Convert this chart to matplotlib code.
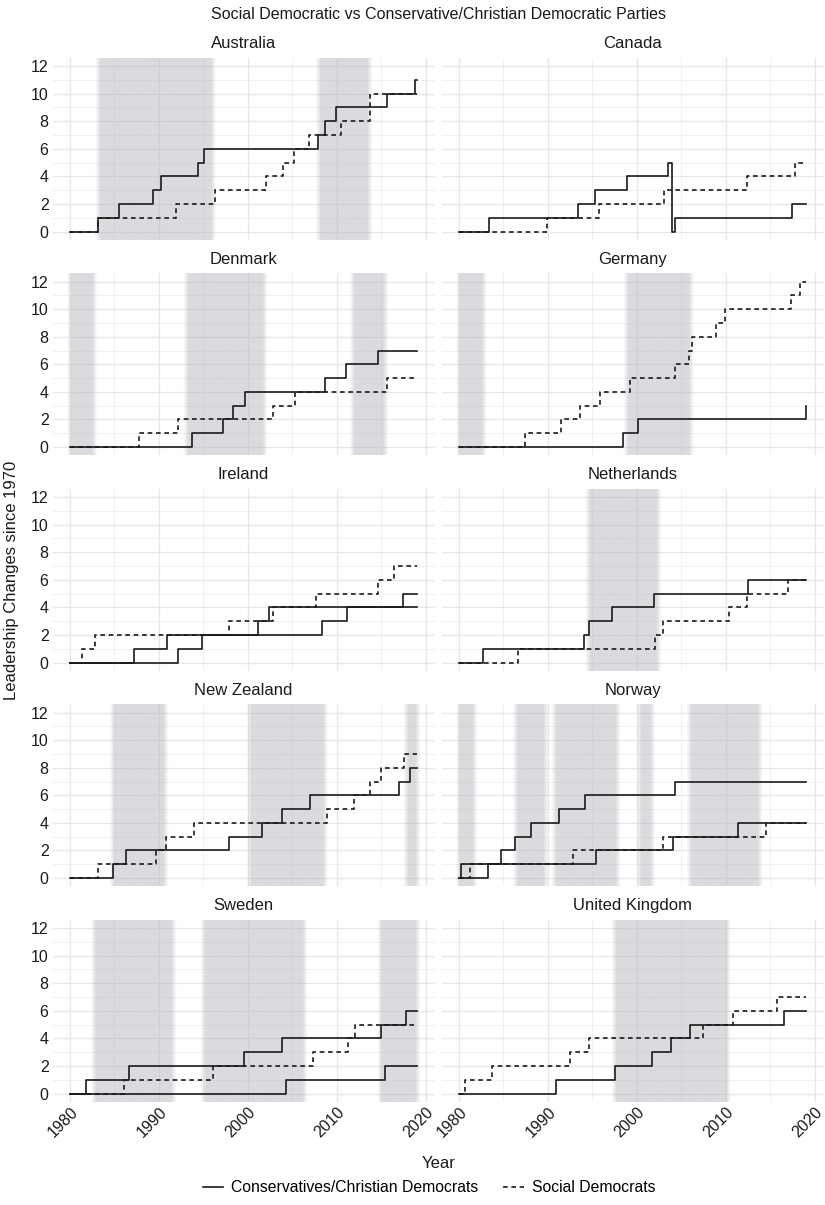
import matplotlib
matplotlib.use("Agg")
import matplotlib.pyplot as plt
import numpy as np
from matplotlib.lines import Line2D
from matplotlib.ticker import MultipleLocator

plt.rcParams["font.family"] = ["Liberation Sans", "DejaVu Sans"]

START, END = 1980.0, 2019.05

# Leadership changes: decimal year of each change and the cumulative count after it.
AUS_CON_YEARS = [1983.1, 1985.5, 1989.3, 1990.2, 1994.4, 1995.1, 2007.9, 2008.7, 2009.9, 2015.7, 2018.8]
AUS_CON_COUNT = [1, 2, 3, 4, 5, 6, 7, 8, 9, 10, 11]
AUS_SD_YEARS = [1983.1, 1991.9, 1996.3, 2002.0, 2004.0, 2005.2, 2006.9, 2010.5, 2013.7]
AUS_SD_COUNT = [1, 2, 3, 4, 5, 6, 7, 8, 10]

CAN_CON_YEARS = [1983.4, 1993.4, 1995.3, 1998.9, 2003.5, 2004.0, 2004.3, 2017.5]
CAN_CON_COUNT = [1, 2, 3, 4, 5, 0, 1, 2]
CAN_SD_YEARS = [1989.9, 1995.7, 2003.1, 2012.4, 2017.8]
CAN_SD_COUNT = [1, 2, 3, 4, 5]

DEN_CON_YEARS = [1993.7, 1997.2, 1998.3, 1999.7, 2008.7, 2011.0, 2014.6]
DEN_CON_COUNT = [1, 2, 3, 4, 5, 6, 7]
DEN_SD_YEARS = [1987.8, 1992.2, 2002.8, 2005.3, 2015.7]
DEN_SD_COUNT = [1, 2, 3, 4, 5]

GER_CON_YEARS = [1998.5, 2000.1, 2019.0]
GER_CON_COUNT = [1, 2, 3]
GER_SD_YEARS = [1987.4, 1991.5, 1993.6, 1995.9, 1999.2, 2004.3, 2005.9, 2006.2, 2008.9, 2009.9, 2017.4, 2018.4]
GER_SD_COUNT = [1, 2, 3, 4, 5, 6, 7, 8, 9, 10, 11, 12]

IRE_CON1_YEARS = [1987.2, 1990.9, 2001.1, 2002.4, 2017.5]
IRE_CON1_COUNT = [1, 2, 3, 4, 5]
IRE_CON2_YEARS = [1992.1, 1994.9, 2008.4, 2011.2]
IRE_CON2_COUNT = [1, 2, 3, 4]
IRE_SD_YEARS = [1981.4, 1982.8, 1997.9, 2002.8, 2007.7, 2014.6, 2016.5]
IRE_SD_COUNT = [1, 2, 3, 4, 5, 6, 7]

NED_CON_YEARS = [1982.7, 1994.1, 1994.6, 1997.2, 2001.9, 2012.5]
NED_CON_COUNT = [1, 2, 3, 4, 5, 6]
NED_SD_YEARS = [1986.6, 2002.0, 2003.0, 2010.4, 2012.4, 2017.0]
NED_SD_COUNT = [1, 2, 3, 4, 5, 6]

NZL_CON_YEARS = [1984.8, 1986.3, 1997.9, 2001.6, 2003.8, 2007.0, 2017.0, 2018.2]
NZL_CON_COUNT = [1, 2, 3, 4, 5, 6, 7, 8]
NZL_SD_YEARS = [1983.1, 1989.7, 1990.8, 1993.9, 2008.9, 2012.0, 2013.7, 2015.0, 2017.6]
NZL_SD_COUNT = [1, 2, 3, 4, 5, 6, 7, 8, 9]

NOR_CON1_YEARS = [1980.2, 1984.7, 1986.3, 1988.1, 1991.2, 1994.2, 2004.3]
NOR_CON1_COUNT = [1, 2, 3, 4, 5, 6, 7]
NOR_CON2_YEARS = [1983.3, 1995.4, 2004.1, 2011.4]
NOR_CON2_COUNT = [1, 2, 3, 4]
NOR_SD_YEARS = [1981.2, 1992.8, 2002.9, 2014.5]
NOR_SD_COUNT = [1, 2, 3, 4]

SWE_CON1_YEARS = [1981.8, 1986.6, 1999.6, 2003.9, 2015.0, 2017.8]
SWE_CON1_COUNT = [1, 2, 3, 4, 5, 6]
SWE_CON2_YEARS = [2004.3, 2015.4]
SWE_CON2_COUNT = [1, 2]
SWE_SD_YEARS = [1986.1, 1996.1, 2007.3, 2011.3, 2012.1]
SWE_SD_COUNT = [1, 2, 3, 4, 5]

GBR_CON_YEARS = [1990.9, 1997.5, 2001.7, 2003.9, 2006.0, 2016.6]
GBR_CON_COUNT = [1, 2, 3, 4, 5, 6]
GBR_SD_YEARS = [1980.7, 1983.7, 1992.5, 1994.6, 2007.5, 2010.8, 2015.8]
GBR_SD_COUNT = [1, 2, 3, 4, 5, 6, 7]

# Periods with a social democratic head of government
AUS_SD_GOV = [(1983.1, 1996.1), (2007.9, 2013.7)]
CAN_SD_GOV = []
DEN_SD_GOV = [(1979.9, 1982.75), (1993.0, 2001.9), (2011.7, 2015.5)]
GER_SD_GOV = [(1979.9, 1982.8), (1998.75, 2006.1)]
IRE_SD_GOV = []
NED_SD_GOV = [(1994.45, 2002.45)]
NZL_SD_GOV = [(1984.7, 1990.75), (2000.1, 2008.7), (2017.75, 2019.1)]
NOR_SD_GOV = [(1979.9, 1981.75), (1986.3, 1989.75), (1990.65, 1997.85), (2000.2, 2001.75), (2005.85, 2013.85)]
SWE_SD_GOV = [(1982.6, 1991.65), (1994.95, 2006.4), (2014.8, 2019.1)]
GBR_SD_GOV = [(1997.4, 2010.25)]

COUNTRIES = ["Australia", "Canada", "Denmark", "Germany", "Ireland",
             "Netherlands", "New Zealand", "Norway", "Sweden", "United Kingdom"]

SERIES = {
    "Australia": [("-", AUS_CON_YEARS, AUS_CON_COUNT), ("--", AUS_SD_YEARS, AUS_SD_COUNT)],
    "Canada": [("-", CAN_CON_YEARS, CAN_CON_COUNT), ("--", CAN_SD_YEARS, CAN_SD_COUNT)],
    "Denmark": [("-", DEN_CON_YEARS, DEN_CON_COUNT), ("--", DEN_SD_YEARS, DEN_SD_COUNT)],
    "Germany": [("-", GER_CON_YEARS, GER_CON_COUNT), ("--", GER_SD_YEARS, GER_SD_COUNT)],
    "Ireland": [("-", IRE_CON1_YEARS, IRE_CON1_COUNT), ("-", IRE_CON2_YEARS, IRE_CON2_COUNT),
                ("--", IRE_SD_YEARS, IRE_SD_COUNT)],
    "Netherlands": [("-", NED_CON_YEARS, NED_CON_COUNT), ("--", NED_SD_YEARS, NED_SD_COUNT)],
    "New Zealand": [("-", NZL_CON_YEARS, NZL_CON_COUNT), ("--", NZL_SD_YEARS, NZL_SD_COUNT)],
    "Norway": [("-", NOR_CON1_YEARS, NOR_CON1_COUNT), ("-", NOR_CON2_YEARS, NOR_CON2_COUNT),
               ("--", NOR_SD_YEARS, NOR_SD_COUNT)],
    "Sweden": [("-", SWE_CON1_YEARS, SWE_CON1_COUNT), ("-", SWE_CON2_YEARS, SWE_CON2_COUNT),
               ("--", SWE_SD_YEARS, SWE_SD_COUNT)],
    "United Kingdom": [("-", GBR_CON_YEARS, GBR_CON_COUNT), ("--", GBR_SD_YEARS, GBR_SD_COUNT)],
}
SD_GOV = {
    "Australia": AUS_SD_GOV, "Canada": CAN_SD_GOV, "Denmark": DEN_SD_GOV,
    "Germany": GER_SD_GOV, "Ireland": IRE_SD_GOV, "Netherlands": NED_SD_GOV,
    "New Zealand": NZL_SD_GOV, "Norway": NOR_SD_GOV, "Sweden": SWE_SD_GOV,
    "United Kingdom": GBR_SD_GOV,
}

X_TICKS = [1980, 1990, 2000, 2010, 2020]
Y_TICKS = [0, 2, 4, 6, 8, 10, 12]

W, H = 825, 1205
fig = plt.figure(figsize=(W / 100, H / 100), dpi=100)

XLIM = (START - 0.05 * (END - START), END + 0.05 * (END - START))
YLIM = (-0.6, 12.6)
LINE_COLOR = "#1a1a1a"
DASH = (0, (2.8, 2.2))
SHADE_RGB = np.array([184, 186, 192]) / 255.0
EDGE = 0.28  # half-width of the soft edge of the shaded bands, in years
TEXT_COLOR = "#1a1a1a"

col_left = [52.7, 441.7]
panel_w = 381.8
panel_h = 182.0
row_top = [57.8 + 215.5 * i for i in range(5)]


def shade_bands(ax, spans):
    if not spans:
        return
    xs = np.linspace(XLIM[0], XLIM[1], 4000)
    alpha = np.zeros_like(xs)
    for a, b in spans:
        ramp = np.minimum((xs - (a - EDGE)) / (2 * EDGE), ((b + EDGE) - xs) / (2 * EDGE))
        alpha = np.maximum(alpha, np.clip(ramp, 0, 1))
    rgba = np.zeros((1, xs.size, 4))
    rgba[..., :3] = SHADE_RGB
    rgba[..., 3] = alpha * 0.52
    ax.imshow(rgba, extent=[XLIM[0], XLIM[1], YLIM[0], YLIM[1]], aspect="auto",
              origin="lower", interpolation="bilinear", zorder=1)


for idx, country in enumerate(COUNTRIES):
    r, c = divmod(idx, 2)
    left = col_left[c] / W
    bottom = 1 - (row_top[r] + panel_h) / H
    ax = fig.add_axes([left, bottom, panel_w / W, panel_h / H])

    shade_bands(ax, SD_GOV[country])

    for style, years, counts in SERIES[country]:
        xs = [START] + list(years) + [END]
        ys = [0] + list(counts) + [counts[-1]]
        ax.step(xs, ys, where="post", color=LINE_COLOR, lw=1.2,
                linestyle="-" if style == "-" else DASH, zorder=3)

    ax.set_xlim(*XLIM)
    ax.set_ylim(*YLIM)
    ax.set_xticks(X_TICKS)
    ax.xaxis.set_minor_locator(MultipleLocator(5))
    ax.set_yticks(Y_TICKS)
    ax.yaxis.set_minor_locator(MultipleLocator(1))
    ax.grid(which="major", color="#e6e6e6", lw=0.9)
    ax.grid(which="minor", color="#eeeeee", lw=0.6)
    ax.set_axisbelow(True)
    for s in ax.spines.values():
        s.set_visible(False)
    ax.tick_params(which="both", length=0)
    ax.tick_params(axis="y", labelsize=11.5, pad=3, labelcolor=TEXT_COLOR)
    ax.tick_params(axis="x", labelsize=11.5, pad=2, labelcolor=TEXT_COLOR)

    if c == 1:
        ax.set_yticklabels([])
    if r < 4:
        ax.set_xticklabels([])
    else:
        ax.set_xticklabels([str(t) for t in X_TICKS], rotation=45, ha="right",
                           va="top", rotation_mode="anchor")

    ax.annotate(country, xy=(0.5, 1.0), xycoords="axes fraction",
                xytext=(0, 10), textcoords="offset points",
                ha="center", va="center", fontsize=12, color=TEXT_COLOR)

center_x = (col_left[0] + col_left[1] + panel_w) / 2 / W
fig.text(center_x, 1 - 14.5 / H, "Social Democratic vs Conservative/Christian Democratic Parties",
         ha="center", va="center", fontsize=11.5, color=TEXT_COLOR)
fig.text(center_x, 1 - 1163 / H, "Year", ha="center", va="center", fontsize=12, color=TEXT_COLOR)
fig.text(12 / W, 1 - 580 / H, "Leadership Changes since 1970", rotation=90,
         ha="center", va="center", fontsize=12, color=TEXT_COLOR)

handles = [Line2D([], [], color=LINE_COLOR, lw=1.2, linestyle="-"),
           Line2D([], [], color=LINE_COLOR, lw=1.2, linestyle=DASH)]
fig.legend(handles, ["Conservatives/Christian Democrats", "Social Democrats"],
           loc="center", bbox_to_anchor=(0.52, 1 - 1188 / H), ncol=2,
           frameon=False, fontsize=11.3, handlelength=1.3, handletextpad=0.5,
           columnspacing=1.6)

fig.savefig("out.png", dpi=100)
